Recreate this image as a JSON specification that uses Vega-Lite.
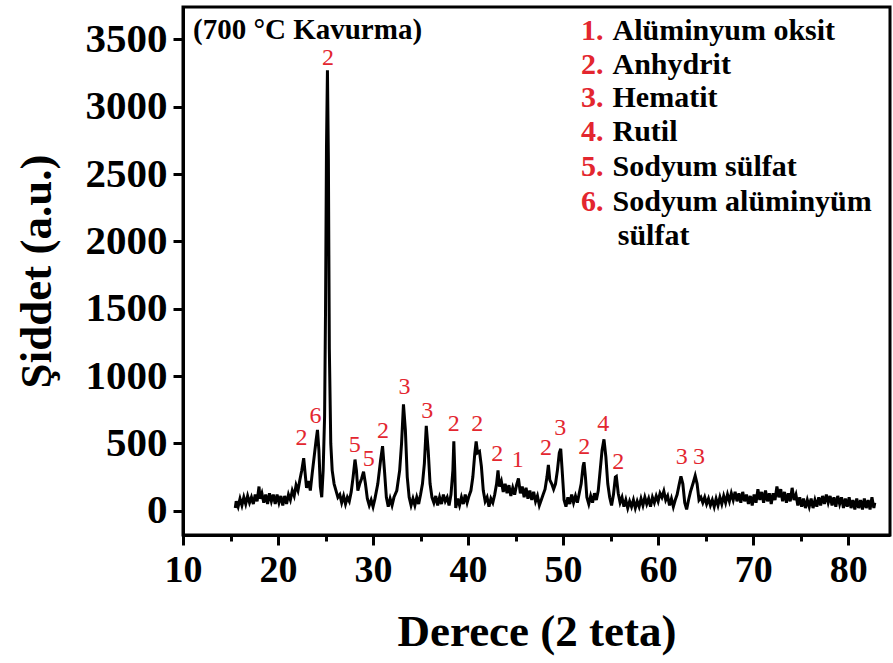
{
"$schema": "https://vega.github.io/schema/vega-lite/v6.json",
"width": 707, "height": 528,
"autosize": {"type": "none"},
"padding": {"left": 183, "top": 7, "right": 3, "bottom": 128},
"background": "white",
"config": {"view": {"stroke": "black", "strokeWidth": 3}, "font": "Liberation Serif"},
"datasets": {
"xrd": [
{"x":15.5,"y":20},{"x":15.6,"y":70},{"x":15.8,"y":30},{"x":16.0,"y":90},{"x":16.2,"y":40},{"x":16.4,"y":100},{"x":16.6,"y":50},{"x":16.8,"y":110},{"x":17.0,"y":60},{"x":17.2,"y":100},{"x":17.4,"y":50},{"x":17.6,"y":120},{"x":17.8,"y":70},{"x":18.0,"y":180},{"x":18.1,"y":90},{"x":18.3,"y":130},{"x":18.5,"y":60},{"x":18.7,"y":120},{"x":18.9,"y":50},{"x":19.1,"y":130},{"x":19.3,"y":70},{"x":19.5,"y":120},{"x":19.7,"y":50},{"x":19.9,"y":120},{"x":20.1,"y":60},{"x":20.3,"y":110},{"x":20.5,"y":40},{"x":20.7,"y":110},{"x":20.9,"y":50},{"x":21.1,"y":120},{"x":21.3,"y":80},{"x":21.5,"y":150},{"x":21.7,"y":110},{"x":21.9,"y":190},{"x":22.1,"y":150},{"x":22.3,"y":230},{"x":22.5,"y":300},{"x":22.7,"y":390},{"x":22.85,"y":280},{"x":23.0,"y":170},{"x":23.2,"y":220},{"x":23.4,"y":150},{"x":23.6,"y":280},{"x":23.8,"y":400},{"x":24.0,"y":520},{"x":24.15,"y":600},{"x":24.3,"y":450},{"x":24.45,"y":180},{"x":24.6,"y":100},{"x":24.75,"y":300},{"x":24.9,"y":700},{"x":25.0,"y":1500},{"x":25.1,"y":2700},{"x":25.2,"y":3270},{"x":25.3,"y":2600},{"x":25.4,"y":1200},{"x":25.55,"y":500},{"x":25.7,"y":300},{"x":25.9,"y":200},{"x":26.1,"y":150},{"x":26.3,"y":100},{"x":26.5,"y":120},{"x":26.7,"y":60},{"x":26.9,"y":110},{"x":27.1,"y":50},{"x":27.3,"y":100},{"x":27.5,"y":70},{"x":27.7,"y":140},{"x":27.9,"y":250},{"x":28.1,"y":380},{"x":28.25,"y":300},{"x":28.4,"y":150},{"x":28.6,"y":200},{"x":28.8,"y":240},{"x":29.0,"y":290},{"x":29.2,"y":200},{"x":29.4,"y":90},{"x":29.6,"y":40},{"x":29.8,"y":80},{"x":30.0,"y":30},{"x":30.2,"y":90},{"x":30.5,"y":200},{"x":30.8,"y":380},{"x":31.0,"y":480},{"x":31.2,"y":300},{"x":31.4,"y":100},{"x":31.6,"y":30},{"x":31.8,"y":90},{"x":32.0,"y":40},{"x":32.2,"y":100},{"x":32.5,"y":150},{"x":32.8,"y":300},{"x":33.0,"y":500},{"x":33.2,"y":790},{"x":33.4,"y":600},{"x":33.6,"y":250},{"x":33.8,"y":100},{"x":34.0,"y":40},{"x":34.2,"y":90},{"x":34.4,"y":40},{"x":34.6,"y":100},{"x":34.8,"y":50},{"x":35.0,"y":120},{"x":35.2,"y":200},{"x":35.4,"y":350},{"x":35.6,"y":630},{"x":35.8,"y":450},{"x":36.0,"y":200},{"x":36.2,"y":100},{"x":36.4,"y":60},{"x":36.6,"y":110},{"x":36.8,"y":40},{"x":37.0,"y":100},{"x":37.2,"y":50},{"x":37.4,"y":120},{"x":37.6,"y":70},{"x":37.8,"y":100},{"x":38.0,"y":40},{"x":38.2,"y":120},{"x":38.4,"y":300},{"x":38.5,"y":515},{"x":38.6,"y":300},{"x":38.7,"y":20},{"x":38.9,"y":90},{"x":39.1,"y":40},{"x":39.3,"y":100},{"x":39.5,"y":50},{"x":39.7,"y":120},{"x":39.9,"y":60},{"x":40.1,"y":110},{"x":40.3,"y":150},{"x":40.5,"y":250},{"x":40.7,"y":420},{"x":40.85,"y":515},{"x":41.0,"y":430},{"x":41.2,"y":440},{"x":41.4,"y":330},{"x":41.6,"y":150},{"x":41.8,"y":70},{"x":42.0,"y":100},{"x":42.2,"y":30},{"x":42.4,"y":90},{"x":42.6,"y":60},{"x":42.8,"y":120},{"x":43.0,"y":200},{"x":43.15,"y":300},{"x":43.3,"y":180},{"x":43.5,"y":220},{"x":43.7,"y":140},{"x":43.9,"y":200},{"x":44.1,"y":130},{"x":44.3,"y":190},{"x":44.5,"y":110},{"x":44.7,"y":170},{"x":44.9,"y":120},{"x":45.1,"y":190},{"x":45.3,"y":240},{"x":45.5,"y":130},{"x":45.7,"y":180},{"x":45.9,"y":100},{"x":46.1,"y":170},{"x":46.3,"y":90},{"x":46.5,"y":150},{"x":46.7,"y":80},{"x":46.9,"y":140},{"x":47.1,"y":70},{"x":47.3,"y":110},{"x":47.5,"y":40},{"x":47.7,"y":80},{"x":47.9,"y":120},{"x":48.1,"y":160},{"x":48.3,"y":250},{"x":48.45,"y":340},{"x":48.6,"y":230},{"x":48.8,"y":200},{"x":49.0,"y":160},{"x":49.2,"y":200},{"x":49.4,"y":300},{"x":49.6,"y":430},{"x":49.75,"y":460},{"x":49.9,"y":300},{"x":50.1,"y":80},{"x":50.3,"y":30},{"x":50.5,"y":100},{"x":50.7,"y":50},{"x":50.9,"y":120},{"x":51.1,"y":60},{"x":51.3,"y":110},{"x":51.5,"y":60},{"x":51.7,"y":130},{"x":51.9,"y":200},{"x":52.1,"y":330},{"x":52.2,"y":360},{"x":52.35,"y":250},{"x":52.5,"y":100},{"x":52.7,"y":50},{"x":52.9,"y":110},{"x":53.1,"y":60},{"x":53.3,"y":130},{"x":53.5,"y":80},{"x":53.7,"y":150},{"x":53.9,"y":300},{"x":54.1,"y":450},{"x":54.3,"y":530},{"x":54.5,"y":400},{"x":54.7,"y":200},{"x":54.9,"y":100},{"x":55.1,"y":40},{"x":55.3,"y":120},{"x":55.5,"y":250},{"x":55.6,"y":255},{"x":55.8,"y":130},{"x":56.0,"y":60},{"x":56.2,"y":100},{"x":56.4,"y":30},{"x":56.6,"y":80},{"x":56.8,"y":20},{"x":57.0,"y":70},{"x":57.2,"y":30},{"x":57.4,"y":80},{"x":57.6,"y":20},{"x":57.8,"y":70},{"x":58.0,"y":30},{"x":58.2,"y":90},{"x":58.4,"y":40},{"x":58.6,"y":100},{"x":58.8,"y":50},{"x":59.0,"y":90},{"x":59.2,"y":30},{"x":59.4,"y":100},{"x":59.6,"y":60},{"x":59.8,"y":110},{"x":60.0,"y":70},{"x":60.2,"y":130},{"x":60.4,"y":100},{"x":60.6,"y":145},{"x":60.8,"y":80},{"x":61.0,"y":110},{"x":61.2,"y":40},{"x":61.4,"y":90},{"x":61.6,"y":30},{"x":61.8,"y":80},{"x":62.0,"y":120},{"x":62.2,"y":190},{"x":62.4,"y":255},{"x":62.6,"y":200},{"x":62.8,"y":60},{"x":63.0,"y":10},{"x":63.2,"y":80},{"x":63.4,"y":140},{"x":63.7,"y":210},{"x":63.9,"y":260},{"x":64.1,"y":200},{"x":64.3,"y":80},{"x":64.5,"y":100},{"x":64.7,"y":60},{"x":64.9,"y":100},{"x":65.1,"y":50},{"x":65.3,"y":90},{"x":65.5,"y":40},{"x":65.7,"y":80},{"x":65.9,"y":30},{"x":66.1,"y":90},{"x":66.3,"y":40},{"x":66.5,"y":100},{"x":66.7,"y":50},{"x":66.9,"y":110},{"x":67.1,"y":60},{"x":67.3,"y":120},{"x":67.5,"y":70},{"x":67.7,"y":130},{"x":67.9,"y":80},{"x":68.1,"y":140},{"x":68.3,"y":70},{"x":68.5,"y":130},{"x":68.7,"y":60},{"x":68.9,"y":140},{"x":69.1,"y":70},{"x":69.3,"y":120},{"x":69.5,"y":50},{"x":69.7,"y":110},{"x":69.9,"y":40},{"x":70.1,"y":120},{"x":70.3,"y":60},{"x":70.5,"y":160},{"x":70.7,"y":80},{"x":70.9,"y":140},{"x":71.1,"y":60},{"x":71.3,"y":150},{"x":71.5,"y":70},{"x":71.7,"y":130},{"x":71.9,"y":50},{"x":72.1,"y":130},{"x":72.3,"y":80},{"x":72.5,"y":180},{"x":72.7,"y":100},{"x":72.9,"y":160},{"x":73.1,"y":70},{"x":73.3,"y":140},{"x":73.5,"y":60},{"x":73.7,"y":130},{"x":73.9,"y":70},{"x":74.1,"y":170},{"x":74.3,"y":80},{"x":74.5,"y":120},{"x":74.7,"y":40},{"x":74.9,"y":100},{"x":75.1,"y":30},{"x":75.3,"y":90},{"x":75.5,"y":20},{"x":75.7,"y":80},{"x":75.9,"y":30},{"x":76.1,"y":90},{"x":76.3,"y":20},{"x":76.5,"y":80},{"x":76.7,"y":30},{"x":76.9,"y":100},{"x":77.1,"y":40},{"x":77.3,"y":110},{"x":77.5,"y":50},{"x":77.7,"y":120},{"x":77.9,"y":60},{"x":78.1,"y":110},{"x":78.3,"y":40},{"x":78.5,"y":100},{"x":78.7,"y":30},{"x":78.9,"y":110},{"x":79.1,"y":50},{"x":79.3,"y":100},{"x":79.5,"y":20},{"x":79.7,"y":90},{"x":79.9,"y":30},{"x":80.1,"y":100},{"x":80.3,"y":20},{"x":80.5,"y":80},{"x":80.7,"y":10},{"x":80.9,"y":90},{"x":81.1,"y":20},{"x":81.3,"y":80},{"x":81.5,"y":10},{"x":81.7,"y":90},{"x":81.9,"y":20},{"x":82.1,"y":80},{"x":82.3,"y":10},{"x":82.5,"y":100},{"x":82.7,"y":20},{"x":82.8,"y":60}
],
"peaks": [
{"x":22.47,"y":538,"n":"2"},{"x":23.94,"y":704,"n":"6"},{"x":25.26,"y":3362,"n":"2"},{"x":28.07,"y":488,"n":"5"},{"x":29.54,"y":384,"n":"5"},{"x":31.04,"y":594,"n":"2"},{"x":33.32,"y":921,"n":"3"},{"x":35.7,"y":741,"n":"3"},{"x":38.5,"y":644,"n":"2"},{"x":40.96,"y":644,"n":"2"},{"x":43.06,"y":421,"n":"2"},{"x":45.22,"y":377,"n":"1"},{"x":48.2,"y":466,"n":"2"},{"x":49.71,"y":615,"n":"3"},{"x":52.23,"y":476,"n":"2"},{"x":54.22,"y":644,"n":"4"},{"x":55.8,"y":364,"n":"2"},{"x":62.49,"y":397,"n":"3"},{"x":64.31,"y":397,"n":"3"}
],
"legend": [
{"num":"1.","name":"Alüminyum oksit","y":3493,"xn":51.88,"xt":55.2},
{"num":"2.","name":"Anhydrit","y":3245,"xn":51.88,"xt":55.2},
{"num":"3.","name":"Hematit","y":3000,"xn":51.88,"xt":55.2},
{"num":"4.","name":"Rutil","y":2742,"xn":51.88,"xt":55.2},
{"num":"5.","name":"Sodyum sülfat","y":2487,"xn":51.88,"xt":55.2},
{"num":"6.","name":"Sodyum alüminyüm","y":2222,"xn":51.88,"xt":55.2},
{"num":"","name":"sülfat","y":1974,"xn":51.88,"xt":55.75}
],
"note": [{"x":11.05,"y":3500,"t":"(700 °C Kavurma)"}]
},
"layer": [
{"data": {"name": "xrd"},
 "mark": {"type": "line", "color": "black", "strokeWidth": 3, "clip": true},
 "encoding": {
  "x": {"field": "x", "type": "quantitative",
    "scale": {"domain": [10, 84.4], "nice": false, "zero": false},
    "axis": {"title": "Derece (2 teta)", "values": [10,15,20,25,30,35,40,45,50,55,60,65,70,75,80],
      "labelExpr": "datum.value % 10 === 0 ? datum.label : ''",
      "tickSize": {"condition": {"test": "datum.value % 10 === 0", "value": 10}, "value": 6},
      "tickWidth": 3, "tickColor": "black", "domainWidth": 3, "domainColor": "black", "grid": false,
      "labelFont": "Liberation Serif", "labelFontWeight": "bold", "labelFontSize": 38, "labelColor": "black",
      "labelPadding": 6, "labelFlush": false, "labelOverlap": false,
      "titleFont": "Liberation Serif", "titleFontWeight": "bold", "titleFontSize": 45, "titleColor": "black", "titlePadding": 20}},
  "y": {"field": "y", "type": "quantitative",
    "scale": {"domain": [-180, 3740], "nice": false, "zero": false},
    "axis": {"title": "Şiddet (a.u.)", "values": [0,250,500,750,1000,1250,1500,1750,2000,2250,2500,2750,3000,3250,3500],
      "labelExpr": "datum.value % 500 === 0 ? datum.label : ''",
      "format": "d",
      "tickSize": {"condition": {"test": "datum.value % 500 === 0", "value": 10}, "value": 6},
      "tickWidth": 3, "tickColor": "black", "domainWidth": 3, "domainColor": "black", "grid": false,
      "labelFont": "Liberation Serif", "labelFontWeight": "bold", "labelFontSize": 41, "labelColor": "black",
      "labelPadding": 6, "labelFlush": false, "labelOverlap": false,
      "titleFont": "Liberation Serif", "titleFontWeight": "bold", "titleFontSize": 45, "titleColor": "black", "titlePadding": 26}}
 }},
{"data": {"name": "peaks"},
 "mark": {"type": "text", "color": "#e3262f", "font": "Liberation Serif", "fontSize": 24, "baseline": "middle", "align": "center"},
 "encoding": {"x": {"field": "x", "type": "quantitative"}, "y": {"field": "y", "type": "quantitative"}, "text": {"field": "n"}}},
{"data": {"name": "note"},
 "mark": {"type": "text", "color": "black", "font": "Liberation Serif", "fontSize": 29, "fontWeight": "bold", "baseline": "alphabetic", "align": "left"},
 "encoding": {"x": {"field": "x", "type": "quantitative"}, "y": {"field": "y", "type": "quantitative"}, "text": {"field": "t"}}},
{"data": {"name": "legend"},
 "mark": {"type": "text", "color": "#e3262f", "font": "Liberation Serif", "fontSize": 30, "fontWeight": "bold", "baseline": "alphabetic", "align": "left"},
 "encoding": {"x": {"field": "xn", "type": "quantitative"}, "y": {"field": "y", "type": "quantitative"}, "text": {"field": "num"}}},
{"data": {"name": "legend"},
 "mark": {"type": "text", "color": "black", "font": "Liberation Serif", "fontSize": 30, "fontWeight": "bold", "baseline": "alphabetic", "align": "left"},
 "encoding": {"x": {"field": "xt", "type": "quantitative"}, "y": {"field": "y", "type": "quantitative"}, "text": {"field": "name"}}}
]
}
